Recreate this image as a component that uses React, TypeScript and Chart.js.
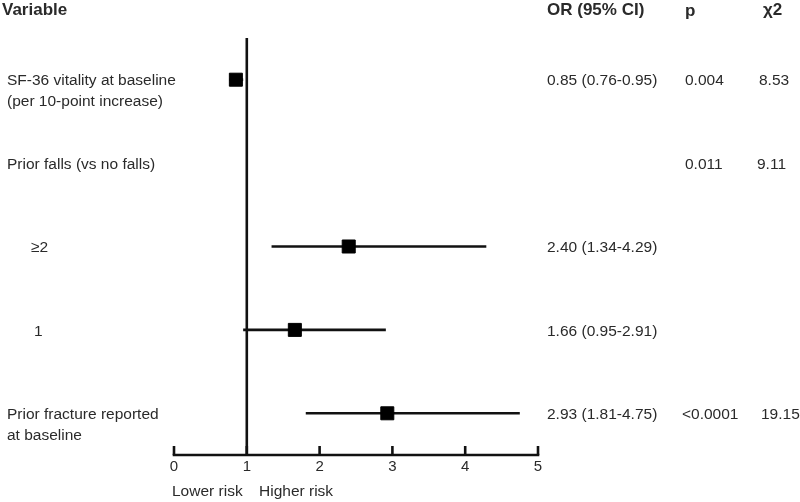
import React, { useEffect, useRef } from "react";
import { Chart, registerables } from "chart.js";

Chart.register(...registerables);

// ---- data ----
const rowLabels = [
  ["SF-36 vitality at baseline", "(per 10-point increase)"],
  ["Prior falls (vs no falls)"],
  ["\u22652"],
  ["1"],
  ["Prior fracture reported", "at baseline"],
];
const orValues: (number | null)[] = [0.85, null, 2.4, 1.66, 2.93];
const ciLow: (number | null)[] = [0.76, null, 1.34, 0.95, 1.81];
const ciHigh: (number | null)[] = [0.95, null, 4.29, 2.91, 4.75];
const pValues = ["0.004", "0.011", "", "", "<0.0001"];
const chiValues = ["8.53", "9.11", "", "", "19.15"];
const xTicks = [0, 1, 2, 3, 4, 5];
const headers = ["Variable", "OR (95% CI)", "p", "\u03c72"];
const riskLabels = ["Lower risk", "Higher risk"];
const refValue = 1;

// ---- styles ----
const FONT = '"Liberation Sans", Arial, sans-serif';
const TEXT = "#2a2a2a";
const INK = "#111";
const labelX = [7, 7, 31, 34, 7];
const chiX = [759, 757, 0, 0, 761];

const fmt = (v: number) => v.toFixed(2);

export default function App() {
  const ref = useRef<HTMLCanvasElement>(null);

  useEffect(() => {
    const canvas = ref.current;
    if (!canvas) return;

    const datasets: any[] = [];
    // reference line
    datasets.push({
      type: "line",
      data: [
        { x: refValue, y: -0.5 },
        { x: refValue, y: 4.5 },
      ],
      borderColor: INK,
      borderWidth: 2.6,
      pointRadius: 0,
      order: 3,
    });
    // CI lines
    orValues.forEach((v, i) => {
      if (v == null) return;
      datasets.push({
        type: "line",
        data: [
          { x: ciLow[i], y: i },
          { x: ciHigh[i], y: i },
        ],
        borderColor: INK,
        borderWidth: 2.6,
        pointRadius: 0,
        order: 2,
      });
    });
    // markers
    datasets.push({
      type: "scatter",
      data: orValues
        .map((v, i) => (v == null ? null : { x: v, y: i }))
        .filter((d) => d != null),
      pointStyle: "rect",
      pointRadius: 9.2,
      backgroundColor: "#000",
      borderColor: "#000",
      borderWidth: 1,
      order: 1,
    });

    const textPlugin = {
      id: "forestText",
      afterDraw(chart: any) {
        const ctx = chart.ctx;
        const xs = chart.scales.x;
        const ys = chart.scales.y;
        ctx.save();
        // axis line and upward ticks
        ctx.strokeStyle = INK;
        ctx.lineWidth = 2.6;
        const yb = chart.chartArea.bottom;
        ctx.beginPath();
        ctx.moveTo(xs.getPixelForValue(xTicks[0]) - 1.3, yb);
        ctx.lineTo(xs.getPixelForValue(xTicks[xTicks.length - 1]) + 1.3, yb);
        ctx.stroke();
        xTicks.forEach((t) => {
          const px = xs.getPixelForValue(t);
          ctx.beginPath();
          ctx.moveTo(px, yb);
          ctx.lineTo(px, yb - 9);
          ctx.stroke();
        });

        ctx.fillStyle = TEXT;
        ctx.textBaseline = "middle";
        ctx.textAlign = "left";
        // headers
        ctx.font = `bold 17px ${FONT}`;
        ctx.fillText(headers[0], 2, 10);
        ctx.fillText(headers[1], 547, 10);
        ctx.fillText(headers[2], 685, 11);
        ctx.fillText(headers[3], 763, 10);

        ctx.font = `15.5px ${FONT}`;
        rowLabels.forEach((lines, i) => {
          const py = ys.getPixelForValue(i) + 1.5;
          lines.forEach((ln, k) => ctx.fillText(ln, labelX[i], py + k * 20.5));
          const v = orValues[i];
          if (v != null) {
            ctx.fillText(
              `${fmt(v)} (${fmt(ciLow[i] as number)}-${fmt(ciHigh[i] as number)})`,
              547,
              py
            );
          }
          if (pValues[i]) ctx.fillText(pValues[i], i === 4 ? 682 : 685, py);
          if (chiValues[i]) ctx.fillText(chiValues[i], chiX[i], py);
        });

        // risk labels
        ctx.fillText(riskLabels[0], 172, 492);
        ctx.fillText(riskLabels[1], 259, 492);
        ctx.restore();
      },
    };

    const chart = new Chart(canvas, {
      type: "scatter",
      data: { datasets },
      plugins: [textPlugin],
      options: {
        animation: false,
        responsive: true,
        maintainAspectRatio: false,
        layout: { padding: { left: 174, right: 262, top: 38, bottom: 0 } },
        plugins: { legend: { display: false }, tooltip: { enabled: false } },
        scales: {
          x: {
            type: "linear",
            min: 0,
            max: 5,
            afterBuildTicks: (scale: any) => {
              scale.ticks = xTicks.map((v) => ({ value: v }));
            },
            afterFit: (scale: any) => {
              scale.height = 47;
            },
            grid: { display: false, drawTicks: false },
            border: { display: false },
            ticks: {
              color: TEXT,
              font: { family: FONT, size: 15 },
              padding: 3,
              autoSkip: false,
              maxRotation: 0,
            },
          },
          y: {
            type: "linear",
            min: -0.5,
            max: 4.5,
            reverse: true,
            display: false,
          },
        },
      },
    });
    return () => chart.destroy();
  }, []);

  return (
    <div style={{ position: "absolute", left: 0, top: 0, width: 800, height: 502, background: "#fff" }}>
      <canvas ref={ref} />
    </div>
  );
}
